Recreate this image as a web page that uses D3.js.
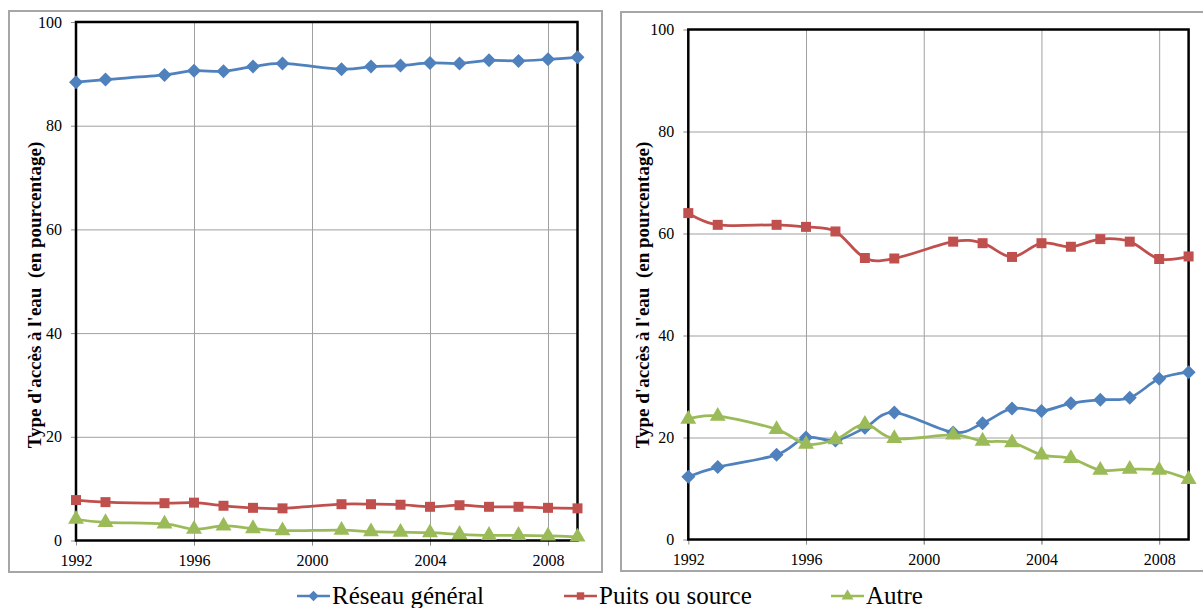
<!DOCTYPE html>
<html>
<head>
<meta charset="utf-8">
<script src="https://cdn.jsdelivr.net/npm/d3@7"></script>
<style>
  body { margin: 0; background: #fff; }
  svg, svg text { font-family: "Liberation Serif", "Times New Roman", serif; }
  .tick text { font-size: 16px; fill: #000; font-family: "Liberation Serif", "Times New Roman", serif; }
  .tick line { stroke: #8c8c8c; }
  .grid .domain { display: none; }
  .grid line { stroke: #a0a0a0; stroke-width: 1; }
</style>
</head>
<body>
<svg width="1203" height="608"></svg>
<script>
// years (no 1994, no 2000 in the survey)
const years = [1992, 1993, 1995, 1996, 1997, 1998, 1999, 2001, 2002, 2003, 2004, 2005, 2006, 2007, 2008, 2009];

// left chart
const leftReseau = [88.4, 88.9, 89.8, 90.6, 90.5, 91.4, 92.0, 90.9, 91.4, 91.6, 92.1, 92.0, 92.6, 92.5, 92.8, 93.2];
const leftPuits  = [7.8, 7.4, 7.2, 7.3, 6.7, 6.3, 6.2, 7.0, 7.0, 6.9, 6.5, 6.8, 6.5, 6.5, 6.3, 6.2];
const leftAutre  = [4.1, 3.5, 3.2, 2.2, 2.8, 2.3, 1.9, 2.0, 1.7, 1.6, 1.5, 1.2, 1.0, 1.0, 0.9, 0.7];

// right chart
const rightReseau = [12.3, 14.2, 16.6, 20.0, 19.4, 21.9, 24.9, 21.0, 22.8, 25.7, 25.2, 26.7, 27.4, 27.8, 31.5, 32.8];
const rightPuits  = [64.0, 61.7, 61.7, 61.3, 60.4, 55.2, 55.1, 58.4, 58.1, 55.4, 58.1, 57.4, 58.9, 58.4, 55.0, 55.5];
const rightAutre  = [23.6, 24.2, 21.6, 18.7, 19.6, 22.6, 19.8, 20.5, 19.3, 19.0, 16.6, 15.9, 13.6, 13.8, 13.6, 11.8];

const seriesNames = ["Réseau général", "Puits ou source", "Autre"];
const seriesColors = ["#4f81bd", "#c0504d", "#9bbb59"];
const seriesSymbols = [d3.symbolDiamond2, d3.symbolSquare, d3.symbolTriangle];
const symbolSizes = [125, 100, 110];

const xTicks = [1992, 1996, 2000, 2004, 2008];
const yTicks = [0, 20, 40, 60, 80, 100];
const yTitle = "Type d'accès à l'eau\u00a0\u00a0(en pourcentage)";

const fontFamily = "'Liberation Serif', 'Times New Roman', serif";

const svg = d3.select("svg");

function symbolPath(i, k = 1) {
    return d3.symbol().type(seriesSymbols[i]).size(symbolSizes[i] * k)();
}

function drawPanel(frame, plot, data, titleX) {
    // outer frame
    svg.append("rect")
        .attr("x", frame.x).attr("y", frame.y)
        .attr("width", frame.w).attr("height", frame.h)
        .attr("fill", "#fff")
        .attr("stroke", "#a6a6a6")
        .attr("stroke-width", 2);

    var x = d3.scaleLinear()
        .domain([1992, 2009])
        .range([plot.left, plot.right]);

    var y = d3.scaleLinear()
        .domain([0, 100])
        .range([plot.bottom, plot.top]);

    var g = svg.append("g");

    // grid
    g.append("g")
        .attr("class", "grid")
        .attr("transform", `translate(0,${plot.top})`)
        .call(d3.axisBottom(x).tickValues(xTicks.slice(1)).tickSize(plot.bottom - plot.top + 5).tickFormat(""));
    g.append("g")
        .attr("class", "grid")
        .attr("transform", `translate(${plot.left},0)`)
        .call(d3.axisRight(y).tickValues(yTicks.slice(1, -1)).tickSize(plot.right - plot.left).tickFormat(""));

    // axes with labels
    var xAxis = g.append("g")
        .attr("transform", `translate(0,${plot.bottom})`)
        .call(d3.axisBottom(x).tickValues(xTicks).tickSize(5).tickPadding(9).tickFormat(d3.format("d")));
    xAxis.select(".domain").remove();
    xAxis.attr("font-family", fontFamily).attr("font-size", 16);

    var yAxis = g.append("g")
        .attr("transform", `translate(${plot.left},0)`)
        .call(d3.axisLeft(y).tickValues(yTicks).tickSize(5).tickPadding(9));
    yAxis.select(".domain").remove();
    yAxis.attr("font-family", fontFamily).attr("font-size", 16);

    // plot area border
    g.append("rect")
        .attr("x", plot.left).attr("y", plot.top)
        .attr("width", plot.right - plot.left)
        .attr("height", plot.bottom - plot.top)
        .attr("fill", "none")
        .attr("stroke", "#000")
        .attr("stroke-width", 2.5);

    // y title
    svg.append("text")
        .attr("transform", `translate(${titleX},${295}) rotate(-90)`)
        .attr("text-anchor", "middle")
        .attr("font-family", fontFamily)
        .attr("font-size", 19)
        .attr("font-weight", "bold")
        .text(yTitle);

    let line = d3.line()
        .x((d, i) => x(years[i]))
        .y(d => y(d))
        .curve(d3.curveCardinal.tension(0));

    data.forEach((vals, si) => {
        g.append("path")
            .datum(vals)
            .attr("d", line)
            .attr("fill", "none")
            .attr("stroke", seriesColors[si])
            .attr("stroke-width", 2.75);
        g.selectAll(null)
            .data(vals)
            .enter().append("path")
            .attr("d", symbolPath(si))
            .attr("transform", (d, i) => `translate(${x(years[i])},${y(d)})`)
            .attr("fill", seriesColors[si]);
    });
}

drawPanel({ x: 9, y: 11, w: 593, h: 561 },
    { left: 76, right: 577.5, top: 22, bottom: 540.5 },
    [leftReseau, leftPuits, leftAutre], 41);

drawPanel({ x: 621, y: 12, w: 600, h: 559 },
    { left: 688.3, right: 1188.6, top: 29.5, bottom: 539.5 },
    [rightReseau, rightPuits, rightAutre], 649);

// legend
const legendX = [297, 564, 831];
const legend = svg.append("g");
seriesNames.forEach((name, i) => {
    let item = legend.append("g").attr("transform", `translate(${legendX[i]},596)`);
    item.append("line")
        .attr("x1", 0).attr("x2", 33)
        .attr("stroke", seriesColors[i])
        .attr("stroke-width", 2.5);
    item.append("path")
        .attr("d", symbolPath(i, 0.55))
        .attr("transform", "translate(16.5,0)")
        .attr("fill", seriesColors[i]);
    item.append("text")
        .attr("x", 35).attr("y", 8)
        .attr("font-family", fontFamily)
        .attr("font-size", 25)
        .text(name);
});
</script>
</body>
</html>
